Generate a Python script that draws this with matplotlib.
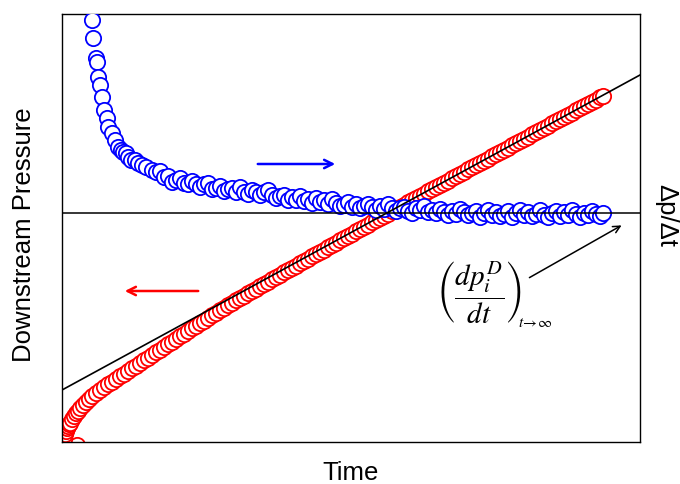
import matplotlib
matplotlib.use("Agg")
import matplotlib.pyplot as plt

plt.rcParams["font.family"] = ["Liberation Sans", "DejaVu Sans"]
plt.rcParams["mathtext.fontset"] = "stix"

# early sampling times (dense at start of test)
early_time = [15, 1, 2, 3, 4, 5, 6, 7, 8, 10, 12, 14, 16, 18, 21, 24, 27, 30]
early_pressure = [-3, -2.5, 3.1, 7.6, 11.2, 13.7, 15.8, 17.8, 19.4, 23.5, 26.0, 28.6,
                  31.2, 33.8, 36.9, 40.1, 43.2, 45.9]

# regular sampling times
time_grid = [34, 38, 42, 46, 50, 54, 58, 62, 66, 70, 74, 78, 82, 86, 90, 94, 98,
             102, 106, 110, 114, 118, 122, 126, 130, 134, 138, 142, 146, 150, 154,
             158, 162, 166, 170, 174, 178, 182, 186, 190, 194, 198, 202, 206, 210,
             214, 218, 222, 226, 230, 234, 238, 242, 246, 250, 254, 258, 262, 266,
             270, 274, 278, 282, 286, 290, 294, 298, 302, 306, 310, 314, 318, 322,
             326, 330, 334, 338, 342, 346, 350, 354, 358, 362, 366, 370, 374, 378,
             382, 386, 390, 394, 398, 402, 406, 410, 414, 418, 422, 426, 430, 434,
             438, 442, 446, 450, 454, 458, 462, 466, 470, 474, 478, 482, 486, 490,
             494, 498, 502, 506, 510, 514, 518, 522, 526, 530, 534, 538, 541]

pressure = [49.0, 52.0, 54.9, 57.8, 60.5, 63.1, 65.8, 68.5, 71.1, 73.8, 76.4, 79.1,
            81.8, 84.5, 87.2, 89.8, 92.4, 95.1, 97.8, 100.4, 103.0, 105.7, 108.4,
            111.1, 113.8, 116.3, 118.9, 121.5, 124.1, 126.7, 129.1, 131.7, 134.2,
            136.7, 139.3, 141.7, 144.1, 146.5, 148.9, 151.3, 153.5, 155.9, 158.2,
            160.5, 162.9, 165.1, 167.4, 169.7, 172.0, 174.3, 176.5, 178.9, 181.2,
            183.5, 185.8, 188.0, 190.3, 192.5, 194.8, 197.1, 199.3, 201.6, 203.9,
            206.2, 208.4, 210.6, 212.9, 215.1, 217.4, 219.6, 221.8, 224.0, 226.3,
            228.5, 230.8, 232.9, 235.2, 237.4, 239.6, 241.8, 244.0, 246.2, 248.4,
            250.6, 252.8, 254.9, 257.1, 259.3, 261.5, 263.7, 265.8, 268.0, 270.4,
            272.6, 274.8, 276.9, 279.1, 281.3, 283.5, 285.7, 287.8, 290.0, 292.2,
            294.4, 296.6, 298.7, 300.9, 303.1, 305.3, 307.7, 309.8, 312.0, 314.2,
            316.4, 318.6, 320.7, 322.9, 325.1, 327.3, 329.5, 331.6, 333.8, 336.0,
            338.2, 340.4, 342.5, 344.7, 346.3]

# derivative dp/dt (plotted on the right-hand scale)
deriv_early_time = [29.7, 31.3, 33.7, 34.7, 36.3, 38, 39.7, 42.3, 44.7, 46.3, 49.7,
                    53, 56.3, 58.5, 61.3, 64, 66.3, 69, 73, 76, 79.7, 84, 89.7]
deriv_early = [422, 403.7, 383.7, 380.3, 365.3, 357, 345.3, 332, 323.7, 315.3, 308.7,
               302, 295.3, 292, 290.3, 289, 285.3, 282, 282, 279, 277, 275, 272]
deriv = [270.5, 271.3, 265, 266, 260.5, 262.5, 264.2, 259.5, 257.8, 261, 258.3,
         254.6, 257.8, 259.1, 253.4, 253.6, 256, 250.6, 253.2, 253.8, 250.4, 255,
         250.4, 247.8, 252.2, 249.7, 247.4, 250.1, 251.8, 247, 244.1, 246.2, 247.4,
         242.5, 244.9, 242.5, 246.2, 240.9, 242.6, 239.1, 243.6, 240.2, 241.7, 238.2,
         242.7, 239.3, 236, 237.5, 240, 235.4, 238, 233.7, 236.4, 238.2, 234.9, 231.7,
         236.4, 233.2, 238, 233.7, 231.2, 233.8, 235.4, 231.1, 229, 234, 232, 235.8,
         230.4, 232.1, 228.7, 233.4, 230, 226.6, 231.3, 228, 232.9, 229.8, 226.7,
         228.6, 231.5, 225.4, 229.3, 232.3, 227.2, 230.2, 226.2, 228, 231, 225, 229,
         232, 227, 230, 226, 228, 232, 227, 225, 229, 231, 226, 230, 227, 232, 228,
         225, 229, 227, 231, 228, 226, 229]
deriv_time = time_grid[15:]

asym_time = [0, 578]
asym_value = [52, 367]
zero_level = 229

fig = plt.figure(figsize=(6.8, 4.84), dpi=100)
ax = fig.add_axes([62 / 680, 42 / 484, 578 / 680, 428 / 484])

ax.plot(early_time + time_grid, early_pressure + pressure, "o", ls="none",
        ms=11, mfc="white", mec="red", mew=1.3, zorder=2)
ax.plot(deriv_early_time + deriv_time, deriv_early + deriv, "o", ls="none",
        ms=11, mfc="white", mec="blue", mew=1.3, zorder=3)
ax.plot(asym_time, asym_value, color="black", lw=1.2, zorder=4)
ax.axhline(zero_level, color="black", lw=1.1, zorder=4)

ax.annotate("", xy=(276, 278), xytext=(193, 278),
            arrowprops=dict(arrowstyle="->,head_length=0.6,head_width=0.3",
                            color="blue", lw=1.8))
ax.annotate("", xy=(60, 151), xytext=(139, 151),
            arrowprops=dict(arrowstyle="->,head_length=0.6,head_width=0.3",
                            color="red", lw=1.8))
ax.annotate("", xy=(562, 218), xytext=(465, 163),
            arrowprops=dict(arrowstyle="->,head_length=0.5,head_width=0.25",
                            color="black", lw=1.1))
ax.text(417, 150, r"$\left(\dfrac{dp_i^D}{dt}\right)$",
        fontsize=21, ha="center", va="center")
ax.text(456, 119, r"$t\!\rightarrow\!\infty$", fontsize=11, ha="left", va="center")

ax.set_xlim(0, 578)
ax.set_ylim(0, 428)
ax.set_xticks([])
ax.set_yticks([])
for s in ax.spines.values():
    s.set_linewidth(1.0)
    s.set_color("black")

fig.text(351 / 680, 1 - 473 / 484, "Time", fontsize=18.5, ha="center", va="center")
fig.text(24 / 680, 1 - 235 / 484, "Downstream Pressure", fontsize=18.5,
         rotation=90, ha="center", va="center")
fig.text(666 / 680, 1 - 215 / 484, "\u0394p/\u0394t", fontsize=18.5,
         rotation=-90, ha="center", va="center")

fig.savefig("out.png", dpi=100)
